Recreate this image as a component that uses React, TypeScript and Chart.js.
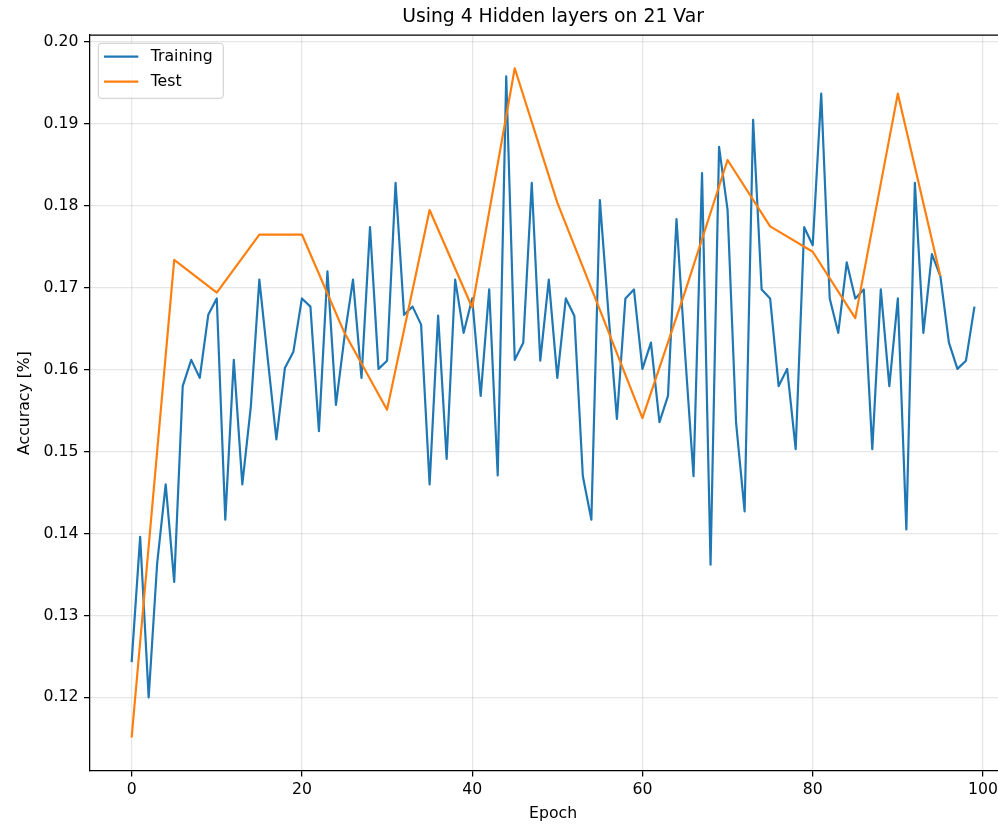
import React, { useEffect, useRef } from "react";
import { Chart, registerables } from "chart.js";

Chart.register(...registerables);

const CHART_TITLE = "Using 4 Hidden layers on 21 Var";
const X_LABEL = "Epoch";
const Y_LABEL = "Accuracy [%]";
const TRAIN_LABEL = "Training";
const TEST_LABEL = "Test";

const trainEpochs = [
  0, 1, 2, 3, 4, 5, 6, 7, 8, 9, 10, 11, 12, 13, 14, 15, 16, 17, 18, 19,
  20, 21, 22, 23, 24, 25, 26, 27, 28, 29, 30, 31, 32, 33, 34, 35, 36, 37, 38, 39,
  40, 41, 42, 43, 44, 45, 46, 47, 48, 49, 50, 51, 52, 53, 54, 55, 56, 57, 58, 59,
  60, 61, 62, 63, 64, 65, 66, 67, 68, 69, 70, 71, 72, 73, 74, 75, 76, 77, 78, 79,
  80, 81, 82, 83, 84, 85, 86, 87, 88, 89, 90, 91, 92, 93, 94, 95, 96, 97, 98, 99,
];

const trainAcc = [
  0.1243, 0.1396, 0.12, 0.1364, 0.146, 0.1341, 0.158, 0.1612, 0.159, 0.1667,
  0.1687, 0.1417, 0.1612, 0.146, 0.1555, 0.171, 0.1612, 0.1515, 0.1602, 0.1622,
  0.1687, 0.1677, 0.1525, 0.172, 0.1557, 0.164, 0.171, 0.159, 0.1774, 0.1601,
  0.1611, 0.1828, 0.1667, 0.1677, 0.1655, 0.146, 0.1666, 0.1491, 0.171, 0.1645,
  0.1687, 0.1568, 0.1698, 0.1471, 0.1958, 0.1612, 0.1633, 0.1828, 0.1611, 0.171,
  0.159, 0.1687, 0.1666, 0.147, 0.1417, 0.1807, 0.167, 0.154, 0.1687, 0.1698,
  0.1601, 0.1633, 0.1536, 0.1568, 0.1784, 0.1621, 0.147, 0.184, 0.1362, 0.1872,
  0.1795, 0.1535, 0.1427, 0.1905, 0.1698, 0.1687, 0.158, 0.1601, 0.1503, 0.1774,
  0.1752, 0.1937, 0.1687, 0.1645, 0.1731, 0.1687, 0.1698, 0.1503, 0.1698, 0.158,
  0.1687, 0.1405, 0.1828, 0.1645, 0.1741, 0.1714, 0.1633, 0.1601, 0.1611, 0.1677,
];

const testEpochs = [0, 5, 10, 15, 20, 25, 30, 35, 40, 45, 50, 55, 60, 65, 70, 75, 80, 85, 90, 95];
const testAcc = [
  0.1151, 0.1734, 0.1694, 0.1765, 0.1765, 0.1645, 0.1551, 0.1795, 0.1676, 0.1968,
  0.1804, 0.1673, 0.1541, 0.1695, 0.1856, 0.1775, 0.1744, 0.1663, 0.1937, 0.1714,
];

const xTicks = [0, 20, 40, 60, 80, 100];
const yTicks = [0.12, 0.13, 0.14, 0.15, 0.16, 0.17, 0.18, 0.19, 0.2];

const TRAIN_COLOR = "#1f77b4";
const TEST_COLOR = "#ff7f0e";
const FONT = "DejaVu Sans";

const CANVAS_W = 1030;
const CANVAS_H = 825;

const framePlugin = {
  id: "mplFrame",
  afterDraw(chart: any) {
    const ctx = chart.ctx;
    const a = chart.chartArea;
    ctx.save();
    ctx.strokeStyle = "#000";
    ctx.lineWidth = 1.25;
    ctx.beginPath();
    ctx.moveTo(a.left, a.top);
    ctx.lineTo(a.right, a.top);
    ctx.lineTo(a.right, a.bottom);
    ctx.stroke();

    // legend (matplotlib style, upper left)
    const x = a.left + 8.8;
    const y = a.top + 8.3;
    const w = 125;
    const h = 55;
    ctx.beginPath();
    if ((ctx as any).roundRect) {
      (ctx as any).roundRect(x, y, w, h, 3);
    } else {
      ctx.rect(x, y, w, h);
    }
    ctx.fillStyle = "rgba(255,255,255,0.8)";
    ctx.fill();
    ctx.strokeStyle = "#cccccc";
    ctx.lineWidth = 1;
    ctx.stroke();

    const ds = chart.data.datasets;
    ctx.font = `15.7px "${FONT}"`;
    ctx.textBaseline = "middle";
    ctx.textAlign = "left";
    for (let i = 0; i < ds.length; i++) {
      const ly = y + 13.4 + i * 25;
      ctx.strokeStyle = ds[i].borderColor;
      ctx.lineWidth = 2.3;
      ctx.beginPath();
      ctx.moveTo(x + 5.7, ly);
      ctx.lineTo(x + 40, ly);
      ctx.stroke();
      ctx.fillStyle = "#000";
      ctx.fillText(ds[i].label, x + 52.4, ly + 0.5);
    }
    ctx.restore();
  },
};

export default function App() {
  const ref = useRef<HTMLCanvasElement | null>(null);

  useEffect(() => {
    if (!ref.current) return;
    const chart = new Chart(ref.current, {
      type: "line",
      data: {
        datasets: [
          {
            label: TRAIN_LABEL,
            data: trainEpochs.map((e, i) => ({ x: e, y: trainAcc[i] })),
            borderColor: TRAIN_COLOR,
            backgroundColor: TRAIN_COLOR,
            borderWidth: 2.2,
            pointRadius: 0,
            borderJoinStyle: "round",
            tension: 0,
            order: 1,
          },
          {
            label: TEST_LABEL,
            data: testEpochs.map((e, i) => ({ x: e, y: testAcc[i] })),
            borderColor: TEST_COLOR,
            backgroundColor: TEST_COLOR,
            borderWidth: 2.2,
            pointRadius: 0,
            borderJoinStyle: "round",
            tension: 0,
            order: 0,
          },
        ],
      },
      options: {
        responsive: false,
        animation: false,
        devicePixelRatio: 1,
        layout: { padding: { left: 0, right: CANVAS_W - 1016.6, top: 0, bottom: 0 } },
        plugins: {
          legend: { display: false },
          tooltip: { enabled: false },
          title: {
            display: true,
            text: CHART_TITLE,
            color: "#000",
            fullSize: false,
            font: { family: FONT, size: 18.8, weight: "normal" },
            padding: { top: 5.7, bottom: 6.74 },
          },
        },
        scales: {
          x: {
            type: "linear",
            min: -4.95,
            max: 103.95,
            afterBuildTicks: (scale: any) => {
              scale.ticks = xTicks.map((v) => ({ value: v }));
            },
            afterFit: (scale: any) => {
              scale.height = CANVAS_H - 771;
            },
            ticks: {
              color: "#000",
              font: { family: FONT, size: 15.7 },
              padding: 4,
              maxRotation: 0,
              autoSkip: false,
              callback: (v: any) => String(v),
            },
            grid: {
              color: "rgba(176,176,176,0.32)",
              lineWidth: 1.25,
              tickColor: "#000",
              tickLength: 5.5,
              tickWidth: 1.25,
            },
            border: { display: true, color: "#000", width: 1.25 },
            title: {
              display: true,
              text: X_LABEL,
              color: "#000",
              font: { family: FONT, size: 15.7 },
              padding: { top: 0, bottom: 2 },
            },
          },
          y: {
            type: "linear",
            min: 0.11101,
            max: 0.20086,
            afterBuildTicks: (scale: any) => {
              scale.ticks = yTicks.map((v) => ({ value: v }));
            },
            afterFit: (scale: any) => {
              scale.width = 89.5;
            },
            ticks: {
              color: "#000",
              font: { family: FONT, size: 15.7 },
              padding: 5.5,
              autoSkip: false,
              callback: (v: any) => Number(v).toFixed(2),
            },
            grid: {
              color: "rgba(176,176,176,0.32)",
              lineWidth: 1.25,
              tickColor: "#000",
              tickLength: 5.5,
              tickWidth: 1.25,
            },
            border: { display: true, color: "#000", width: 1.25 },
            title: {
              display: true,
              text: Y_LABEL,
              color: "#000",
              font: { family: FONT, size: 15.7 },
              padding: { top: 15.6, bottom: 0 },
            },
          },
        },
      },
      plugins: [framePlugin],
    } as any);
    return () => chart.destroy();
  }, []);

  return (
    <div
      style={{
        position: "fixed",
        left: 0,
        top: 0,
        width: 998,
        height: 825,
        overflow: "hidden",
        background: "#fff",
      }}
    >
      <canvas ref={ref} width={CANVAS_W} height={CANVAS_H} style={{ width: CANVAS_W, height: CANVAS_H, display: "block" }} />
    </div>
  );
}
